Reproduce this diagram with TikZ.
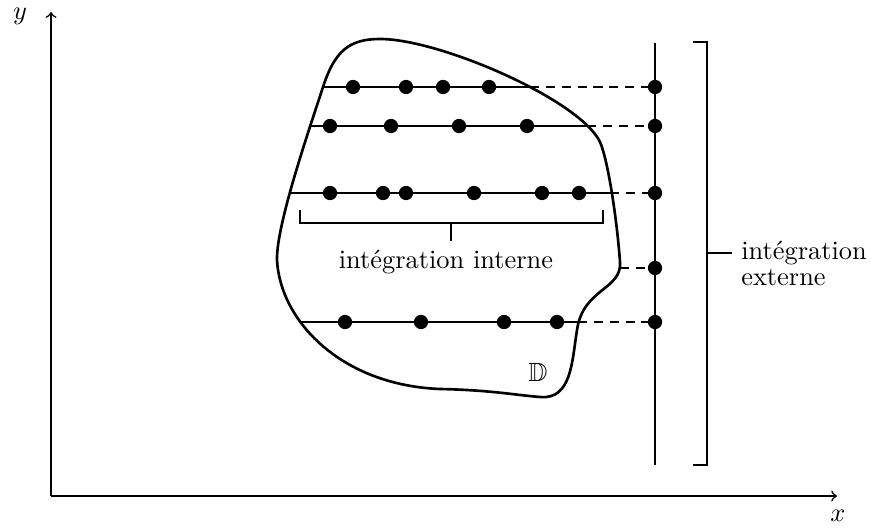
\documentclass[tikz,border=0pt]{standalone}
\usepackage{amssymb}
\begin{document}
\begin{tikzpicture}[x=0.379pt,y=-0.379pt]

      \tikzset{enclosed/.style={draw, circle, inner sep=0pt, minimum size=5pt, fill=black},
               seg/.style={line width=1pt},
               proj/.style={line width=1pt, dash pattern=on 3.5pt off 2.5pt}}
      \useasboundingbox (0,0) rectangle (871,529);
%% Axes
      	\coordinate (o) at (51,496);
      	\coordinate (xend) at (837,496);
      	\coordinate (yend) at (51,12);
      	\draw[->, semithick] (o) -- (xend);
      	\draw[->, semithick] (o) -- (yend);
      	\node (xlab) at (838,516) {$x$};
      	\node (ylab) at (20,16) {$y$};
%% Domain
      	\draw[seg] (323,87) .. controls (335,50) and (350,39) .. (380,39)
      	    .. controls (440,39) and (580,100) .. (600,142)
      	    .. controls (608,160) and (617,220) .. (620,262)
      	    .. controls (622,290) and (583,288) .. (577,330)
      	    .. controls (572,360) and (572,400) .. (540,397)
      	    .. controls (515,395) and (490,390) .. (440,389)
      	    .. controls (340,385) and (280,320) .. (277,260)
      	    .. controls (276,225) and (311,124) .. (323,87) -- cycle;
      	\node (dom) at (538,372) {$\mathbb{D}$};
%% Outer line
      	\coordinate (top) at (655,43);
      	\coordinate (bot) at (655,465);
      	\draw[seg] (top) -- (bot);
%% Inner lines
      	\coordinate (a0) at (323,87);  \coordinate (a9) at (530,87);
      	\coordinate (b0) at (310,126); \coordinate (b9) at (587,126);
      	\coordinate (c0) at (289,193); \coordinate (c9) at (610,193);
      	\coordinate (d9) at (620,268);
      	\coordinate (e0) at (301,322); \coordinate (e9) at (578,322);
      	\draw[seg] (a0) -- (a9);
      	\draw[seg] (b0) -- (b9);
      	\draw[seg] (c0) -- (c9);
      	\draw[seg] (e0) -- (e9);
%% Vertices
      	\node[enclosed] (a1) at (353,87) {};
      	\node[enclosed] (a2) at (406,87) {};
      	\node[enclosed] (a3) at (443,87) {};
      	\node[enclosed] (a4) at (489,87) {};
      	\node[enclosed] (b1) at (330,126) {};
      	\node[enclosed] (b2) at (391,126) {};
      	\node[enclosed] (b3) at (459,126) {};
      	\node[enclosed] (b4) at (527,126) {};
      	\node[enclosed] (c1) at (330,193) {};
      	\node[enclosed] (c2) at (383,193) {};
      	\node[enclosed] (c3) at (406,193) {};
      	\node[enclosed] (c4) at (474,193) {};
      	\node[enclosed] (c5) at (542,193) {};
      	\node[enclosed] (c6) at (579,193) {};
      	\node[enclosed] (e1) at (345,322) {};
      	\node[enclosed] (e2) at (421,322) {};
      	\node[enclosed] (e3) at (504,322) {};
      	\node[enclosed] (e4) at (557,322) {};
      	\node[enclosed] (q1) at (655,87) {};
      	\node[enclosed] (q2) at (655,126) {};
      	\node[enclosed] (q3) at (655,193) {};
      	\node[enclosed] (q4) at (655,268) {};
      	\node[enclosed] (q5) at (655,322) {};
%Projections
		\draw[proj] (a9) -- (q1);
		\draw[proj] (b9) -- (q2);
		\draw[proj] (c9) -- (q3);
		\draw[proj] (d9) -- (q4);
		\draw[proj] (e9) -- (q5);
%Brackets
		\draw[seg] (300,210) -- (300,223) -- (603,223) -- (603,210);
		\coordinate (itick) at (451,223);
		\coordinate (itip) at (451,241);
		\draw[seg] (itick) -- (itip);
		\node[anchor=base] (ilab) at (446,268) {intégration interne};
		\draw[seg] (693,42) -- (707,42) -- (707,465) -- (693,465);
		\coordinate (etick) at (707,253);
		\coordinate (etip) at (732,253);
		\draw[seg] (etick) -- (etip);
		\node[anchor=west, align=left, yshift=-4pt] (elab) at (etip) {intégration\\[-2pt] externe};

	\end{tikzpicture}
\end{document}
